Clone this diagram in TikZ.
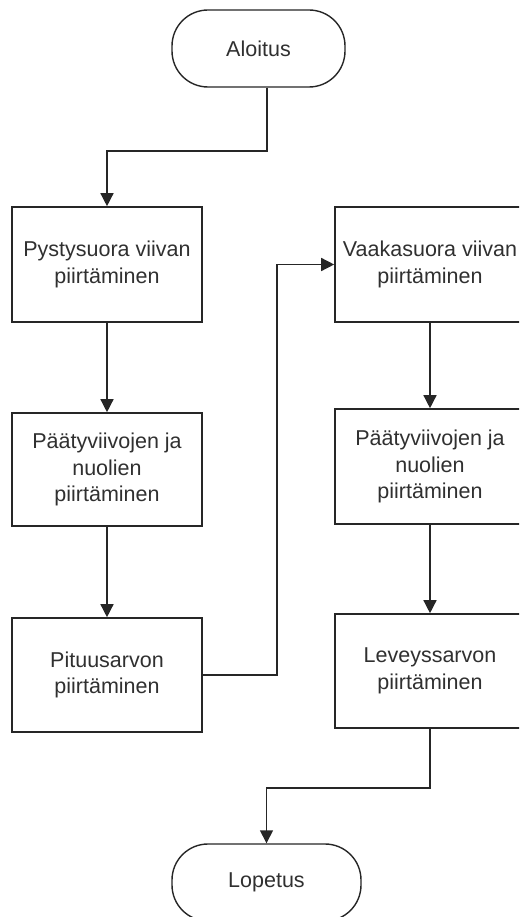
\documentclass[tikz,border=0pt]{standalone}
\usepackage{fontspec}
\setmainfont{Liberation Sans}
\usetikzlibrary{arrows.meta}
\definecolor{inkline}{HTML}{262626}
\definecolor{inktext}{HTML}{303030}
\tikzset{
  every node/.style={font=\fontsize{21.5}{26.5}\selectfont, text=inktext},
  procbox/.style={draw=inkline, line width=1.6pt, fill=white, align=center,
    minimum width=190pt, inner sep=0pt},
  termbox/.style={draw=inkline, line width=1.4pt, fill=white, rounded corners=36pt,
    minimum height=77pt, inner sep=0pt},
  flow/.style={draw=inkline, line width=1.4pt, -{Triangle[width=13pt,length=13pt]}}
}
\begin{document}
\begin{tikzpicture}[x=1pt, y=-1pt]
  \useasboundingbox (0,0) rectangle (519,917);
  \clip (0,0) rectangle (519,917);

  % terminals
  \node[termbox, minimum width=173pt] (start) at (258.5,48.5) {Aloitus};
  \node[termbox, minimum width=189pt] (stop) at (266.5,882.5) {Lopetus};

  % left column
  \node[procbox, minimum height=115pt] (b1) at (107,264.5) {Pystysuora viivan\\piirtäminen};
  \node[procbox, minimum height=113pt] (b2) at (107,469.5) {Päätyviivojen ja\\nuolien\\piirtäminen};
  \node[procbox, minimum height=114pt] (b3) at (107,675) {Pituusarvon\\piirtäminen};

  % right column
  \node[procbox, minimum height=115pt] (c1) at (430,264.5) {Vaakasuora viivan\\piirtäminen};
  \node[procbox, minimum height=115pt] (c2) at (430,466.5) {Päätyviivojen ja\\nuolien\\piirtäminen};
  \node[procbox, minimum height=114pt] (c3) at (430,671) {Leveyssarvon\\piirtäminen};

  % bend points
  \coordinate (k1) at (107,151);
  \coordinate (k2) at (277,675);
  \coordinate (k3) at (266.5,788);

  % connectors
  \draw[flow] ([xshift=8.5pt]start.south) |- (k1) -- (b1.north);
  \draw[flow] (b1.south) -- (b2.north);
  \draw[flow] (b2.south) -- (b3.north);
  \draw[flow] (b3.east) -- (k2) |- (c1.west);
  \draw[flow] (c1.south) -- (c2.north);
  \draw[flow] (c2.south) -- (c3.north);
  \draw[flow] (c3.south) |- (k3) -- (stop.north);
\end{tikzpicture}
\end{document}
